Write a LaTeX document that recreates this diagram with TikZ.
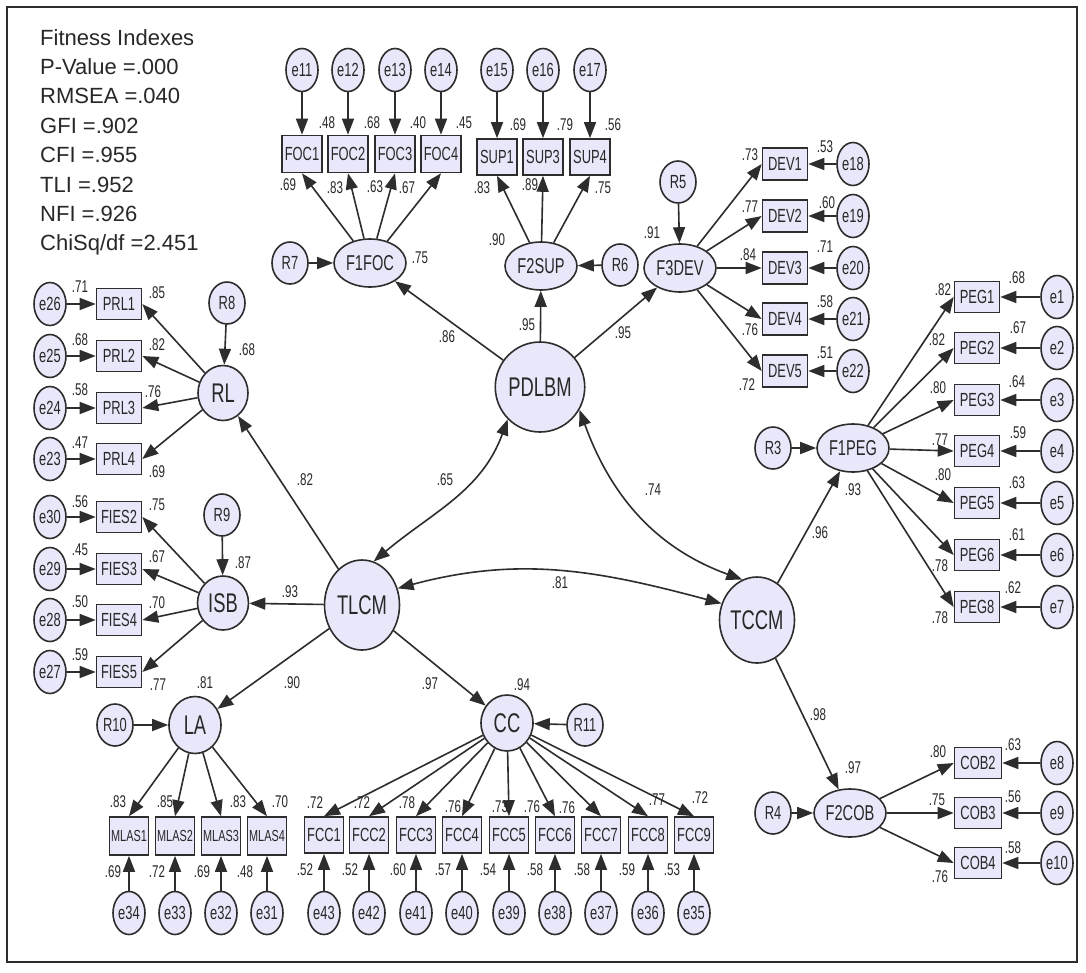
\documentclass[tikz,border=0pt]{standalone}
\usepackage{fontspec}
\setmainfont{Liberation Sans}
\newfontfamily\dfont{Liberation Sans}[FakeStretch=0.68]
\usetikzlibrary{arrows.meta,shapes.geometric}
\definecolor{linec}{RGB}{45,45,45}
\definecolor{fillc}{RGB}{232,232,250}
\definecolor{txtc}{RGB}{40,40,40}
\tikzset{
 lat/.style={ellipse, draw=linec, line width=1.6pt, fill=fillc, inner sep=0pt, text=txtc},
 big/.style={lat, font=\dfont\fontsize{27}{27}\selectfont},
 fac/.style={lat, minimum width=72pt, minimum height=48pt, font=\dfont\fontsize{21.5}{21.5}\selectfont},
 res/.style={lat, minimum width=36pt, minimum height=42pt, font=\dfont\fontsize{19}{19}\selectfont},
 err/.style={lat, minimum width=32pt, minimum height=43pt, font=\dfont\fontsize{19}{19}\selectfont},
 obs/.style={rectangle, draw=linec, line width=1.6pt, fill=fillc, inner sep=0pt, text=txtc, font=\dfont\fontsize{19}{19}\selectfont},
 coef/.style={inner sep=0pt, text=txtc, font=\dfont\fontsize{17}{17}\selectfont},
 fit/.style={anchor=base west, inner sep=0pt, text=txtc, font=\fontsize{22}{22}\selectfont},
 ln/.style={draw=linec, line width=1.6pt},
 arr/.style={ln, -{Triangle[length=16pt,width=12pt]}},
 dbl/.style={ln, {Triangle[length=16pt,width=12pt]}-{Triangle[length=16pt,width=12pt]}},
}
\begin{document}
\begin{tikzpicture}[x=1pt,y=-1pt]
\useasboundingbox (0,0) rectangle (1086,972);
\fill[white] (0,0) rectangle (1086,972);
\draw[line width=1.5pt, draw=linec] (7,7) rectangle (1077,962);

% fitness text
\foreach [count=\k] \t in {Fitness Indexes, P-Value =.000, RMSEA =.040, GFI =.902, CFI =.955, TLI =.952, NFI =.926, ChiSq/df =2.451}
  \node[fit] (fit\k) at (40,{45+29.4*(\k-1)}) {\t};

% latent variables
\node[big, minimum width=74pt, minimum height=90pt] (PDLBM) at (540,387) {PDLBM};
\node[big, minimum width=75pt, minimum height=90pt] (TLCM) at (362,605) {TLCM};
\node[big, minimum width=72pt, minimum height=86pt] (TCCM) at (757,620) {TCCM};
\node[big, minimum width=50pt, minimum height=55pt] (RL) at (223,393) {RL};
\node[big, minimum width=51pt, minimum height=54pt] (ISB) at (223,603) {ISB};
\node[big, minimum width=52pt, minimum height=57pt] (LA) at (195,725) {LA};
\node[big, minimum width=52pt, minimum height=56pt] (CC) at (507,723) {CC};
\node[fac] (F1FOC) at (370,263) {F1FOC};
\node[fac] (F2SUP) at (541,266) {F2SUP};
\node[fac] (F3DEV) at (680,268) {F3DEV};
\node[fac] (F1PEG) at (853,448) {F1PEG};
\node[fac] (F2COB) at (850,813) {F2COB};

% residuals
\node[res] (R7) at (290,263) {R7};
\node[res] (R6) at (620,265) {R6};
\node[res] (R5) at (678,182) {R5};
\node[res] (R3) at (773,448) {R3};
\node[res] (R4) at (773,813) {R4};
\node[res] (R8) at (227,303) {R8};
\node[res] (R9) at (222,515) {R9};
\node[res] (R10) at (115,725) {R10};
\node[res] (R11) at (585,725) {R11};
\foreach \r/\l in {R7/F1FOC,R6/F2SUP,R5/F3DEV,R3/F1PEG,R4/F2COB,R8/RL,R9/ISB,R10/LA,R11/CC}
  \draw[arr] (\r) -- (\l);

% FOC
\foreach \i/\x in {1/302,2/348,3/395,4/441}{
  \node[err] (e1\i) at (\x,70) {e1\i};
  \node[obs, minimum width=40pt, minimum height=37pt] (FOC\i) at (\x,154) {FOC\i};
  \draw[arr] (e1\i) -- (FOC\i);
  \draw[arr] (F1FOC) -- (FOC\i.south);
}
% SUP
\foreach \e/\s/\x in {15/1/497,16/3/543,17/4/590}{
  \node[err] (e\e) at (\x,70) {e\e};
  \node[obs, minimum width=40pt, minimum height=36pt] (SUP\s) at (\x,157) {SUP\s};
  \draw[arr] (e\e) -- (SUP\s);
  \draw[arr] (F2SUP) -- (SUP\s.south);
}
% DEV
\foreach \i/\e/\y in {1/18/164,2/19/216,3/20/268,4/21/319,5/22/371}{
  \node[obs, minimum width=45pt, minimum height=32pt] (DEV\i) at (785,\y) {DEV\i};
  \node[err] (e\e) at (853,\y) {e\e};
  \draw[arr] (e\e) -- (DEV\i);
  \draw[arr] (F3DEV) -- (DEV\i.west);
}
% PEG
\foreach \i/\e/\y in {1/1/297,2/2/348,3/3/400,4/4/451,5/5/503,6/6/555,8/7/607}{
  \node[obs, minimum width=45pt, minimum height=31pt] (PEG\i) at (977,\y) {PEG\i};
  \node[err] (e\e) at (1057,\y) {e\e};
  \draw[arr] (e\e) -- (PEG\i);
  \draw[arr] (F1PEG) -- (PEG\i.west);
}
% COB
\foreach \i/\e/\y in {2/8/763,3/9/813,4/10/863}{
  \node[obs, minimum width=47pt, minimum height=31pt] (COB\i) at (978,\y) {COB\i};
  \node[err] (e\e) at (1057,\y) {e\e};
  \draw[arr] (e\e) -- (COB\i);
  \draw[arr] (F2COB) -- (COB\i.west);
}
% PRL
\foreach \i/\e/\y in {1/26/304,2/25/356,3/24/408,4/23/459}{
  \node[obs, minimum width=45pt, minimum height=31pt] (PRL\i) at (119,\y) {PRL\i};
  \node[err] (e\e) at (50,\y) {e\e};
  \draw[arr] (e\e) -- (PRL\i);
  \draw[arr] (RL) -- (PRL\i.east);
}
% FIES
\foreach \i/\e/\y in {2/30/517,3/29/569,4/28/620,5/27/672}{
  \node[obs, minimum width=45pt, minimum height=31pt] (FIES\i) at (119,\y) {FIES\i};
  \node[err] (e\e) at (50,\y) {e\e};
  \draw[arr] (e\e) -- (FIES\i);
  \draw[arr] (ISB) -- (FIES\i.east);
}
% MLAS
\foreach \i/\e/\x in {1/34/129,2/33/175,3/32/221,4/31/267}{
  \node[obs, minimum width=39pt, minimum height=38pt, font=\dfont\fontsize{16}{16}\selectfont] (MLAS\i) at (\x,836) {MLAS\i};
  \node[err] (e\e) at (\x,913) {e\e};
  \draw[arr] (e\e) -- (MLAS\i);
  \draw[arr] (LA) -- (MLAS\i.north);
}
% FCC
\foreach \i/\e/\x in {1/43/324,2/42/369,3/41/416,4/40/462,5/39/509,6/38/555,7/37/601,8/36/648,9/35/694}{
  \node[obs, minimum width=39pt, minimum height=36pt] (FCC\i) at (\x,835) {FCC\i};
  \node[err] (e\e) at (\x,913) {e\e};
  \draw[arr] (e\e) -- (FCC\i);
  \draw[arr] (CC) -- (FCC\i.north);
}

% structural paths
\draw[arr] (PDLBM) -- (F1FOC);
\draw[arr] (PDLBM) -- (F2SUP);
\draw[arr] (PDLBM) -- (F3DEV);
\draw[arr] (TLCM) -- (RL);
\draw[arr] (TLCM) -- (ISB);
\draw[arr] (TLCM) -- (LA);
\draw[arr] (TLCM) -- (CC);
\draw[arr] (TCCM) -- (F1PEG);
\draw[arr] (TCCM) -- (F2COB);

% covariances
\draw[dbl] (PDLBM.225) to[out=250,in=40] (TLCM.75);
\draw[dbl] (PDLBM.330) to[out=290,in=160] (TCCM.110);
\draw[dbl] (TLCM.25) to[out=15,in=165] (TCCM.155);

% coefficient labels
\foreach [count=\k] \x/\y/\t in {
 327/123/.48, 372/123/.68, 418/123/.40, 464/123/.45, 288/185/.69, 335/188/.83, 375/187/.63, 407/188/.67,
 518/125/.69, 565/125/.79, 613/125/.56, 482/188/.83, 530/185/.89, 603/188/.75,
 420/258/.75, 497/240/.90, 652/233/.91,
 750/155/.73, 825/147/.53, 750/207/.77, 827/203/.60, 748/255/.84, 825/247/.71, 825/302/.58, 750/330/.76, 825/353/.51, 747/385/.72,
 447/337/.86, 527/325/.95, 623/333/.95,
 445/480/.65, 653/490/.74, 560/583/.81,
 247/350/.68, 305/480/.82,
 80/287/.71, 157/293/.85, 80/340/.68, 157/345/.82, 80/390/.58, 153/392/.76, 80/443/.47, 157/472/.69,
 80/502/.56, 157/505/.75, 80/550/.45, 157/557/.67, 80/602/.50, 157/603/.70, 80/655/.59, 158/685/.77,
 243/563/.87, 290/592/.93,
 205/683/.81, 292/683/.90, 430/684/.97, 522/685/.94,
 118/802/.83, 165/802/.85, 238/802/.83, 280/802/.70, 113/872/.69, 157/872/.72, 202/872/.69, 245/872/.48,
 315/803/.72, 362/803/.72, 407/803/.78, 453/807/.76, 500/807/.73, 532/807/.76, 567/808/.76, 657/800/.77, 700/798/.72,
 305/870/.52, 350/870/.52, 398/870/.60, 443/870/.57, 488/870/.54, 535/870/.58, 582/870/.58, 627/870/.59, 672/870/.53,
 943/290/.82, 1017/278/.68, 937/340/.82, 1018/328/.67, 938/388/.80, 1017/382/.64, 940/440/.77, 1018/433/.59,
 943/475/.80, 1017/483/.63, 1017/535/.61, 940/566/.78, 1013/588/.62, 940/618/.78,
 853/490/.93, 820/533/.96, 818/715/.98, 853/768/.97,
 938/752/.80, 1013/745/.63, 937/800/.75, 1013/797/.56, 1013/848/.58, 940/877/.76}
  \node[coef] (c\k) at (\x,\y) {\t};
\end{tikzpicture}
\end{document}
